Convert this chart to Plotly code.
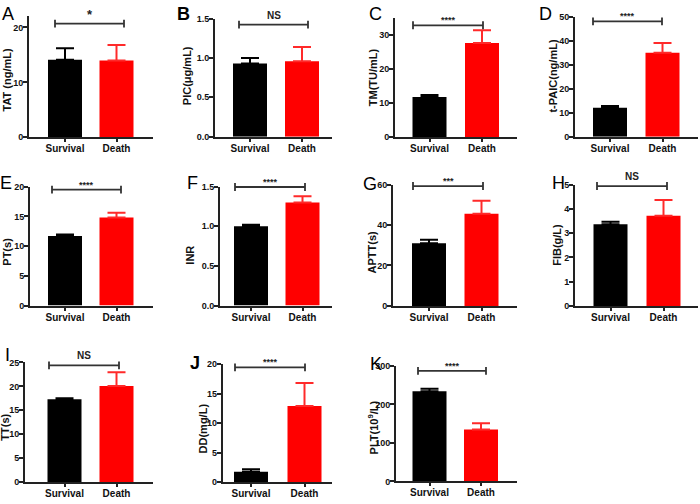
import plotly.graph_objects as go

# ---------------- data ----------------
categories = ["Survival", "Death"]
panel_letters = ["A", "B", "C", "D", "E", "F", "G", "H", "I", "J", "K"]
y_titles = ["TAT (ng/mL)", "PIC(μg/mL)", "TM(TU/mL)", "t-PAIC(ng/mL)", "PT(s)", "INR",
            "APTT(s)", "FIB(g/L)", "TT(s)", "DD(mg/L)", "PLT(10<sup>9</sup>/L)"]
survival_mean = [14.1, 0.93, 11.8, 12.0, 11.7, 1.00, 31.0, 3.37, 17.3, 1.8, 234]
survival_err = [2.1, 0.07, 0.6, 0.8, 0.25, 0.02, 1.7, 0.10, 0.2, 0.4, 7]
death_mean = [14.0, 0.96, 27.7, 35.0, 14.8, 1.30, 45.6, 3.72, 20.1, 12.9, 135]
death_err = [2.8, 0.18, 3.7, 4.1, 0.8, 0.08, 6.4, 0.65, 2.85, 3.9, 16]
significance = ["*", "NS", "****", "****", "****", "****", "***", "NS", "NS", "****", "****"]
y_max = [22, 1.5, 35, 50, 20, 1.5, 60, 5, 25, 20, 300]
y_dtick = [10, 0.5, 10, 10, 5, 0.5, 20, 1, 5, 5, 100]
y_tickformat = ["d", ".1f", "d", "d", "d", ".1f", "d", "d", "d", "d", "d"]

# ---------------- layout (pixels) ----------------
W, H = 700, 504
# left axis x, right end, bar1 centre, bar2 centre, zero y, top y
geom = [
    (29, 153, 65, 116.5, 135, 11.7),
    (215, 332, 250, 302, 134.3, 14),
    (395, 517, 429.5, 482, 135, 13.3),
    (575, 698, 610, 662.5, 134.3, 12),
    (30, 153, 65, 116.5, 306.7, 185.3),
    (220, 332, 251, 302.5, 306.7, 185.3),
    (393, 517, 429, 481.5, 307, 183.3),
    (575, 698, 610.5, 663.5, 307, 183.3),
    (25, 153, 64.5, 116.5, 486.7, 364.7),
    (222.7, 332, 251, 304.5, 487, 366.3),
    (396, 517, 429.5, 481, 486, 368.3),
]
# bracket: x left, x right, y (pixels)
brackets = [
    (55, 124, 19), (239, 308, 20), (413, 483, 20.7), (593, 662, 16.7),
    (52, 121, 188.3), (235, 305, 185.7), (413, 483, 184.7), (597, 667, 184.7),
    (49, 119, 367.7), (235, 305, 369.7), (418, 486, 373.3),
]
letter_pos = [(8, 9.5), (183, 9.5), (375, 9.5), (545, 9.5), (6, 182), (192, 182), (370, 183),
              (558, 182), (7.5, 357), (195, 365), (376.5, 366)]
letter_bold = [False, True, False, False, False, False, False, False, False, True, False]
ytitle_pos = [(7, 77), (187, 72.6), (372.7, 74), (553, 73), (6.7, 252), (190, 254.7),
              (371.7, 251.7), (556.7, 245), (5.5, 430.7), (203.3, 431.7), (373.3, 430.7)]

FONT = "Arial, Liberation Sans, sans-serif"
AXC = "#222222"


def px(x):
    return x / W


def py(y):
    return 1 - y / H


fig = go.Figure()
annotations = []
shapes = []

for i in range(11):
    left, right, c1, c2, y0, ytop = geom[i]
    sp = c2 - c1
    xmin = (left - c1) / sp
    xmax = (right - c1) / sp
    bw = 34 / sp
    n = "" if i == 0 else str(i + 1)
    xa, ya = "x" + n, "y" + n

    fig.add_trace(go.Bar(
        x=[0], y=[survival_mean[i]], width=[bw], xaxis=xa, yaxis=ya,
        marker=dict(color="#000000", line=dict(width=0)),
        error_y=dict(type="data", array=[survival_err[i]], arrayminus=[0], symmetric=False,
                     color="#000000", thickness=2, width=9),
        showlegend=False, hoverinfo="skip"))
    fig.add_trace(go.Bar(
        x=[1], y=[death_mean[i]], width=[bw], xaxis=xa, yaxis=ya,
        marker=dict(color="#ff0000", line=dict(width=0)),
        error_y=dict(type="data", array=[death_err[i]], arrayminus=[0], symmetric=False,
                     color="#ff2a2a", thickness=2, width=9),
        showlegend=False, hoverinfo="skip"))

    xkey = "xaxis" + n
    ykey = "yaxis" + n
    fig.layout[xkey] = dict(
        domain=[px(left), px(right)], range=[xmin, xmax], anchor=ya,
        tickvals=[0, 1], ticktext=categories, showline=True, linecolor=AXC, linewidth=2,
        ticks="outside", ticklen=3, tickwidth=1.5, tickcolor=AXC, showgrid=False,
        zeroline=False, fixedrange=True, ticklabelstandoff=-2,
        tickfont=dict(family=FONT, size=10, color="#111111", weight="bold"))
    fig.layout[ykey] = dict(
        domain=[py(y0), py(ytop)], range=[0, y_max[i]], anchor=xa,
        tick0=0, dtick=y_dtick[i], tickformat=y_tickformat[i],
        showline=True, linecolor=AXC, linewidth=2, ticks="outside", ticklen=4,
        tickwidth=1.5, tickcolor=AXC, showgrid=False, zeroline=False, fixedrange=True,
        ticklabelstandoff=-2,
        tickfont=dict(family=FONT, size=9, color="#111111", weight="bold"))

    # bracket
    bl, br, by = brackets[i]
    shapes.append(dict(type="line", xref="paper", yref="paper", x0=px(bl), x1=px(br),
                       y0=py(by), y1=py(by), line=dict(color="#333333", width=1.8)))
    for bx in (bl, br):
        shapes.append(dict(type="line", xref="paper", yref="paper", x0=px(bx), x1=px(bx),
                           y0=py(by - 4), y1=py(by + 4), line=dict(color="#333333", width=1.8)))
    sig = significance[i]
    if sig == "NS":
        sfont, shift = 10, 2
    elif sig == "*":
        sfont, shift = 13, 0
    else:
        sfont, shift = 9, -2
    annotations.append(dict(text=sig, x=px((bl + br) / 2), y=py(by), xref="paper",
                            yref="paper", xanchor="center", yanchor="bottom", yshift=shift,
                            showarrow=False,
                            font=dict(family=FONT, size=sfont, color="#222222", weight="bold")))
    # panel letter
    lx, ly = letter_pos[i]
    annotations.append(dict(text=panel_letters[i], x=px(lx), y=py(ly), xref="paper",
                            yref="paper", xanchor="center", yanchor="middle", showarrow=False,
                            font=dict(family=FONT, size=18, color="#000000",
                                      weight="bold" if letter_bold[i] else "normal")))
    # y-axis title
    tx, ty = ytitle_pos[i]
    annotations.append(dict(text=y_titles[i], x=px(tx), y=py(ty), xref="paper",
                            yref="paper", xanchor="center", yanchor="middle", textangle=-90,
                            showarrow=False,
                            font=dict(family=FONT, size=11, color="#111111", weight="bold")))

fig.update_layout(width=W, height=H, margin=dict(l=0, r=0, t=0, b=0),
                  paper_bgcolor="white", plot_bgcolor="white", barmode="overlay",
                  annotations=annotations, shapes=shapes)

fig.write_html("out.html", config={"displayModeBar": False},
               post_script="document.body.style.margin='0';document.body.style.padding='0';")
